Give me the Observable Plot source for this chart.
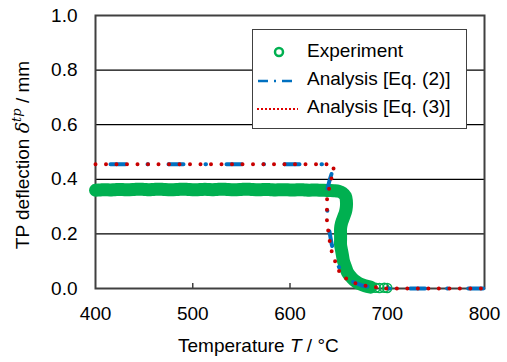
<!DOCTYPE html>
<html>
<head>
<meta charset="utf-8">
<script src="https://cdn.jsdelivr.net/npm/d3@7"></script>
<script src="https://cdn.jsdelivr.net/npm/@observablehq/plot@0.6"></script>
<style>
  html, body { margin: 0; padding: 0; background: #fff; }
  svg { display: block; }
</style>
</head>
<body>
<div id="chart"></div>
<script>
// ---- data ----
const xTicks = [400, 500, 600, 700, 800];
const yTicks = [0.0, 0.2, 0.4, 0.6, 0.8, 1.0];
const gridTicks = [0.2, 0.4, 0.6, 0.8];

// Experiment: dense scatter (appears as a solid band)
const expBandT = [400,405,410,415,420,425,430,435,440,445,450,455,460,465,470,475,480,485,490,495,
  500,505,510,515,520,525,530,535,540,545,550,555,560,565,570,575,580,585,590,595,
  600,605,610,615,620,625,630,635,640,645,650,654,657,658,658,657,655,653,652,652,652,652,653,654,655,657,659,662,666,671,677,683];
const expBandY = [0.360,0.361,0.362,0.361,0.362,0.363,0.362,0.362,0.363,0.364,0.363,0.362,0.363,0.364,0.363,0.362,0.362,0.363,0.364,0.363,
  0.362,0.362,0.363,0.363,0.362,0.363,0.364,0.363,0.362,0.362,0.363,0.364,0.363,0.362,0.362,0.363,0.362,0.361,0.362,0.362,
  0.361,0.361,0.362,0.361,0.360,0.361,0.360,0.360,0.359,0.358,0.356,0.350,0.338,0.320,0.300,0.280,0.260,0.240,0.220,0.200,0.180,0.160,0.140,0.120,0.100,0.080,0.060,0.045,0.030,0.018,0.010,0.005];
// Experiment: sparse tail (individual open circles)
const expTailT = [683, 688, 692, 697, 700];
const expTailY = [0.005, 0.003, 0.002, 0.003, 0.002];

// Analysis [Eq. (2)]
const eq2T = [400, 643, 645, 641, 638, 638, 640, 643, 646, 650, 656, 664, 675, 690, 700, 800];
const eq2Y = [0.455, 0.455, 0.445, 0.400, 0.360, 0.300, 0.220, 0.160, 0.120, 0.080, 0.050, 0.025, 0.010, 0.002, 0.000, 0.000];

// Analysis [Eq. (3)]
const eq3T = [400, 644, 645, 641, 638, 638, 640, 643, 647, 651, 659, 670, 680, 691, 700, 800];
const eq3Y = [0.455, 0.455, 0.435, 0.380, 0.325, 0.250, 0.190, 0.133, 0.094, 0.060, 0.032, 0.015, 0.008, 0.003, 0.000, 0.000];

const legendLabels = ["Experiment", "Analysis [Eq. (2)]", "Analysis [Eq. (3)]"];

// ---- styles ----
const GREEN = "#00b050", BLUE = "#0070c0", RED = "#c80000";
const FONT = "'Liberation Sans', Arial, sans-serif";

const band = expBandT.map((t, i) => ({T: t, y: expBandY[i]}));
const tail = expTailT.map((t, i) => ({T: t, y: expTailY[i]}));
const eq2 = eq2T.map((t, i) => ({T: t, y: eq2Y[i]}));
const eq3 = eq3T.map((t, i) => ({T: t, y: eq3Y[i]}));

const plot = Plot.plot({
  width: 507,
  height: 362,
  marginLeft: 95,
  marginRight: 23,
  marginTop: 15,
  marginBottom: 74,
  style: {fontFamily: FONT, fontSize: "19px", color: "#000", background: "#fff", overflow: "visible"},
  x: {domain: [400, 800], label: null},
  y: {domain: [0, 1], label: null},
  marks: [
    Plot.gridY(gridTicks, {stroke: "#000", strokeOpacity: 1, strokeWidth: 1.2}),
    Plot.axisY(yTicks, {tickSize: 0, tickPadding: 18, tickFormat: d3.format(".1f"), fontSize: 19, label: null}),
    Plot.axisX(xTicks, {tickSize: 0, tickPadding: 18, fontSize: 19, label: null}),
    Plot.axisX([500, 600, 700], {tickSize: 5, dy: -5, text: null, stroke: "#404040", strokeWidth: 1.5, label: null}),
    Plot.frame({stroke: "#404040", strokeWidth: 2}),
    Plot.line(band, {x: "T", y: "y", stroke: GREEN, strokeWidth: 13, strokeLinecap: "round", strokeLinejoin: "round", curve: "catmull-rom"}),
    Plot.dot(tail, {x: "T", y: "y", r: 4.5, stroke: GREEN, strokeWidth: 1.5, fill: "none"}),
    Plot.line(eq2, {x: "T", y: "y", stroke: BLUE, strokeWidth: 4, strokeLinecap: "round",
      strokeDasharray: "15,22,0.5,20.5", strokeDashoffset: 43}),
    Plot.line(eq3, {x: "T", y: "y", stroke: RED, strokeWidth: 4, strokeLinecap: "round",
      strokeDasharray: "0,10.5"})
  ]
});

document.getElementById("chart").appendChild(plot);

// ---- axis titles and legend (text with italic parts) ----
const svg = d3.select(plot);

const xt = svg.append("text")
  .attr("x", 178).attr("y", 352).attr("text-anchor", "start")
  .attr("font-family", FONT).attr("font-size", 19).attr("fill", "#000");
xt.append("tspan").text("Temperature ");
xt.append("tspan").attr("font-style", "italic").text("T");
xt.append("tspan").text(" / °C");

const yt = svg.append("text")
  .attr("transform", "translate(29,155) rotate(-90)")
  .attr("text-anchor", "middle")
  .attr("font-family", FONT).attr("font-size", 19).attr("fill", "#000");
yt.append("tspan").text("TP deflection ");
yt.append("tspan").attr("font-family", "'DejaVu Serif', 'Liberation Serif', serif").attr("font-style", "italic").text("δ");
yt.append("tspan").attr("font-family", "'DejaVu Serif', 'Liberation Serif', serif").attr("font-style", "italic").attr("font-size", 13).attr("dy", -8).text("tp");
yt.append("tspan").attr("dy", 8).text(" / mm");

const lg = svg.append("g");
lg.append("rect").attr("x", 252.5).attr("y", 29.5).attr("width", 214).attr("height", 99)
  .attr("fill", "#fff").attr("stroke", "#404040").attr("stroke-width", 1);
const rows = [57, 85, 113];
lg.append("circle").attr("cx", 279).attr("cy", 52).attr("r", 4)
  .attr("fill", "none").attr("stroke", GREEN).attr("stroke-width", 2.5);
lg.append("line").attr("x1", 258).attr("x2", 297).attr("y1", 81).attr("y2", 81)
  .attr("stroke", BLUE).attr("stroke-width", 2.5).attr("stroke-dasharray", "10,6,2,6");
lg.append("line").attr("x1", 257).attr("x2", 298).attr("y1", 109).attr("y2", 109)
  .attr("stroke", "#e00000").attr("stroke-width", 2).attr("stroke-dasharray", "2,2");
legendLabels.forEach((s, i) => {
  lg.append("text").attr("x", 307).attr("y", rows[i]).attr("text-anchor", "start")
    .attr("font-family", FONT).attr("font-size", 19).attr("fill", "#000").text(s);
});
</script>
</body>
</html>
